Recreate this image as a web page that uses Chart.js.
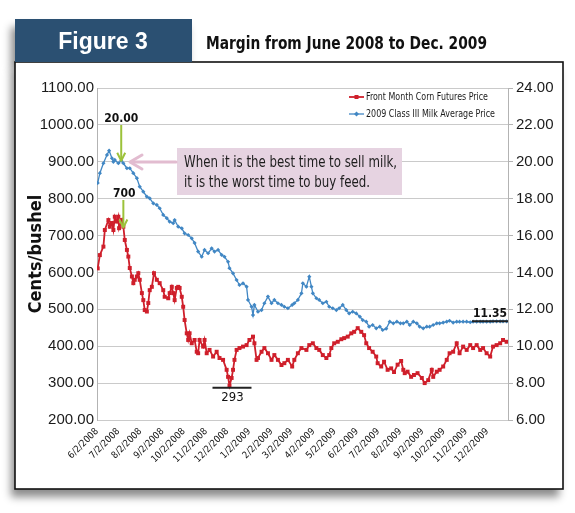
<!DOCTYPE html>
<html><head><meta charset="utf-8">
<script src="https://cdn.jsdelivr.net/npm/chart.js@4.4.1/dist/chart.umd.min.js"></script>
<style>html,body{margin:0;padding:0;background:#fff;}canvas{display:block;}</style>
</head><body>
<canvas id="c" width="575" height="513"></canvas>
<script>
// ---------- DATA ----------
const tickLabels = ["6/2/2008","7/2/2008","8/2/2008","9/2/2008","10/2/2008","11/2/2008","12/2/2008","1/2/2009","2/2/2009","3/2/2009","4/2/2009","5/2/2009","6/2/2009","7/2/2009","8/2/2009","9/2/2009","10/2/2009","11/2/2009","12/2/2009"];
const axisStart = "2008-06-02";
const axisEnd = "2009-12-31";

const cornDates = ["2008-06-03","2008-06-06","2008-06-11","2008-06-13","2008-06-18","2008-06-20","2008-06-23","2008-06-25","2008-06-27","2008-06-30","2008-07-02","2008-07-03","2008-07-07","2008-07-09","2008-07-11","2008-07-14","2008-07-16","2008-07-18","2008-07-21","2008-07-23","2008-07-25","2008-07-28","2008-07-30","2008-08-01","2008-08-04","2008-08-06","2008-08-08","2008-08-11","2008-08-13","2008-08-15","2008-08-18","2008-08-21","2008-08-25","2008-08-29","2008-09-03","2008-09-05","2008-09-10","2008-09-12","2008-09-15","2008-09-17","2008-09-19","2008-09-22","2008-09-24","2008-09-26","2008-09-29","2008-10-01","2008-10-03","2008-10-06","2008-10-08","2008-10-10","2008-10-13","2008-10-17","2008-10-20","2008-10-22","2008-10-24","2008-10-29","2008-10-31","2008-11-03","2008-11-07","2008-11-12","2008-11-17","2008-11-21","2008-11-26","2008-12-01","2008-12-03","2008-12-05","2008-12-08","2008-12-10","2008-12-12","2008-12-15","2008-12-19","2008-12-24","2008-12-29","2009-01-02","2009-01-07","2009-01-09","2009-01-12","2009-01-14","2009-01-19","2009-01-23","2009-01-28","2009-02-02","2009-02-06","2009-02-11","2009-02-16","2009-02-20","2009-02-25","2009-03-03","2009-03-06","2009-03-11","2009-03-16","2009-03-23","2009-03-27","2009-04-01","2009-04-06","2009-04-10","2009-04-15","2009-04-20","2009-04-24","2009-04-27","2009-05-01","2009-05-06","2009-05-11","2009-05-15","2009-05-20","2009-05-25","2009-05-29","2009-06-03","2009-06-08","2009-06-12","2009-06-15","2009-06-19","2009-06-24","2009-06-29","2009-07-01","2009-07-06","2009-07-10","2009-07-15","2009-07-20","2009-07-24","2009-07-29","2009-08-03","2009-08-06","2009-08-08","2009-08-12","2009-08-17","2009-08-21","2009-08-26","2009-09-01","2009-09-05","2009-09-10","2009-09-15","2009-09-17","2009-09-22","2009-09-26","2009-10-01","2009-10-06","2009-10-10","2009-10-15","2009-10-20","2009-10-24","2009-10-29","2009-11-03","2009-11-08","2009-11-12","2009-11-17","2009-11-22","2009-11-26","2009-12-01","2009-12-06","2009-12-10","2009-12-15","2009-12-20","2009-12-24","2009-12-29"];
const cornValues = [611,647,670,715,742,724,734,715,751,738,751,720,742,724,688,661,643,612,589,571,580,589,598,580,544,525,498,494,517,552,561,598,580,571,552,534,530,544,561,544,525,558,561,558,534,507,471,435,417,435,408,417,385,381,417,399,417,381,390,372,385,368,363,336,317,293,314,336,363,390,395,399,403,417,426,408,363,368,385,395,381,363,376,363,349,354,363,345,363,381,395,390,403,408,395,390,376,368,376,395,408,412,419,422,426,435,439,449,439,430,408,395,385,372,354,345,358,336,340,330,350,360,336,327,331,317,322,327,314,300,308,336,317,331,336,345,363,381,385,408,381,399,390,403,395,403,390,395,381,372,399,403,408,417,412];

const milkDates = ["2008-06-03","2008-06-06","2008-06-11","2008-06-16","2008-06-19","2008-06-23","2008-06-25","2008-06-27","2008-07-02","2008-07-06","2008-07-09","2008-07-14","2008-07-18","2008-07-23","2008-07-28","2008-08-01","2008-08-06","2008-08-11","2008-08-15","2008-08-20","2008-08-25","2008-08-29","2008-09-03","2008-09-08","2008-09-12","2008-09-17","2008-09-19","2008-09-24","2008-09-29","2008-10-03","2008-10-08","2008-10-13","2008-10-17","2008-10-22","2008-10-27","2008-10-31","2008-11-05","2008-11-10","2008-11-14","2008-11-19","2008-11-24","2008-11-28","2008-12-03","2008-12-05","2008-12-10","2008-12-15","2008-12-19","2008-12-24","2008-12-29","2008-12-31","2009-01-05","2009-01-07","2009-01-09","2009-01-14","2009-01-19","2009-01-23","2009-01-28","2009-02-02","2009-02-06","2009-02-11","2009-02-16","2009-02-20","2009-02-25","2009-03-03","2009-03-06","2009-03-11","2009-03-16","2009-03-18","2009-03-23","2009-03-27","2009-03-30","2009-04-01","2009-04-06","2009-04-10","2009-04-15","2009-04-20","2009-04-24","2009-04-29","2009-05-04","2009-05-08","2009-05-13","2009-05-18","2009-05-22","2009-05-27","2009-06-01","2009-06-06","2009-06-10","2009-06-15","2009-06-19","2009-06-24","2009-06-29","2009-07-04","2009-07-08","2009-07-13","2009-07-18","2009-07-23","2009-07-28","2009-08-02","2009-08-06","2009-08-11","2009-08-15","2009-08-20","2009-08-25","2009-08-29","2009-09-03","2009-09-08","2009-09-12","2009-09-17","2009-09-22","2009-09-26","2009-10-01","2009-10-06","2009-10-10","2009-10-15","2009-10-20","2009-10-24","2009-10-29","2009-11-03","2009-11-08","2009-11-12","2009-11-17","2009-11-22","2009-11-26","2009-12-01","2009-12-06","2009-12-10","2009-12-15","2009-12-20","2009-12-24","2009-12-29"];
const milkValues = [18.85,19.38,19.92,20.37,20.60,20.19,20.00,20.10,19.92,20.06,19.92,19.65,19.65,19.38,19.11,18.65,18.38,18.11,18.02,17.75,17.66,17.48,17.12,16.94,16.75,16.67,16.84,16.48,16.39,16.12,16.03,15.85,15.60,15.13,14.85,15.22,15.04,15.31,15.13,15.22,14.95,14.85,14.58,14.23,13.95,13.59,13.32,13.41,13.23,12.51,12.14,11.69,12.24,11.87,11.96,12.33,12.69,12.33,12.51,12.33,12.24,12.14,12.06,12.24,12.33,12.51,12.87,13.41,13.23,13.77,13.23,12.87,12.60,12.51,12.33,12.41,12.14,12.06,11.96,12.06,12.24,11.96,11.78,11.87,11.78,11.60,11.42,11.33,11.06,11.15,10.97,11.06,10.88,10.95,11.33,11.24,11.33,11.24,11.24,11.33,11.15,11.33,11.24,11.06,10.97,11.06,11.06,11.15,11.24,11.24,11.28,11.33,11.38,11.28,11.33,11.33,11.33,11.33,11.30,11.33,11.33,11.33,11.33,11.33,11.33,11.35,11.35,11.35,11.35,11.35];

const seriesNames = ["Front Month Corn Futures Price","2009 Class III Milk Average Price"];
const leftTicks = {min:200, max:1100, step:100};
const rightTicks = {min:6, max:24, step:2};

// ---------- HELPERS ----------
const DAY = 86400000;
const t0 = Date.parse(axisStart + "T00:00:00Z");
const dayOfISO = s => (Date.parse(s + "T00:00:00Z") - t0) / DAY;
const dayOfMDY = s => { const [m,d,y] = s.split("/").map(Number); return (Date.UTC(y,m-1,d) - t0) / DAY; };
const tickDays = tickLabels.map(dayOfMDY);

const RED = "#cf1f2b";
const BLUE = "#4187c4";
const NARROW = "'Liberation Sans Narrow','Arial Narrow','DejaVu Sans Condensed',sans-serif";
const SANS = "'Liberation Sans',Arial,sans-serif";

const decor = {
  id: "decor",
  beforeDraw(chart) {
    const ctx = chart.ctx;
    ctx.save();
    ctx.fillStyle = "#fff";
    ctx.fillRect(0,0,575,513);
    ctx.shadowColor = "rgba(0,0,0,0.45)";
    ctx.shadowBlur = 8;
    ctx.shadowOffsetX = -4;
    ctx.shadowOffsetY = 8;
    ctx.fillStyle = "#fff";
    ctx.fillRect(15, 62, 548, 427);
    ctx.fillStyle = "#2b5072";
    ctx.fillRect(15, 19, 177, 43);
    ctx.restore();
    ctx.save();
    ctx.fillStyle = "#fff";
    ctx.fillRect(15, 62, 548, 427);
    ctx.strokeStyle = "#111";
    ctx.lineWidth = 1.6;
    ctx.strokeRect(15, 62, 548, 427);
    ctx.fillStyle = "#2b5072";
    ctx.fillRect(15, 19, 177, 43);
    ctx.fillStyle = "#fff";
    ctx.font = "bold 23px " + SANS;
    ctx.textAlign = "center";
    ctx.textBaseline = "alphabetic";
    ctx.fillText("Figure 3", 103, 49);
    ctx.fillStyle = "#111";
    ctx.textAlign = "left";
    ctx.font = "bold 18px " + NARROW;
    ctx.fillText("Margin from June 2008 to Dec. 2009", 206, 49, 281);
    ctx.restore();
  },
  afterDraw(chart) {
    const ctx = chart.ctx;
    const xs = chart.scales.x, yl = chart.scales.y, yr = chart.scales.y1;
    ctx.save();
    // legend
    const lgColors = [RED, BLUE];
    const lgWidths = [122, 129];
    seriesNames.forEach((name,i) => {
      const y = 97 + i*17;
      ctx.strokeStyle = lgColors[i]; ctx.lineWidth = i===0?1.8:1.3;
      ctx.beginPath(); ctx.moveTo(349,y); ctx.lineTo(364,y); ctx.stroke();
      ctx.fillStyle = lgColors[i];
      ctx.beginPath();
      if (i===0) ctx.rect(354.5, y-2, 4, 4); else { ctx.moveTo(356.5,y-2.5); ctx.lineTo(359,y); ctx.lineTo(356.5,y+2.5); ctx.lineTo(354,y); ctx.closePath(); }
      ctx.fill();
      ctx.fillStyle = "#1a1a1a";
      ctx.font = "10px " + NARROW;
      ctx.textAlign = "left"; ctx.textBaseline = "middle";
      ctx.fillText(name, 366, y+0.5, lgWidths[i]);
    });
    // pink callout
    ctx.fillStyle = "#e6d3e1";
    ctx.fillRect(177, 148, 225, 47);
    ctx.fillStyle = "#1d1d1d";
    ctx.font = "16px " + NARROW;
    ctx.textAlign = "left"; ctx.textBaseline = "alphabetic";
    ctx.fillText("When it is the best time to sell milk,", 184, 167, 213);
    ctx.fillText("it is the worst time to buy feed.", 184, 187, 186);
    // pink arrow
    ctx.strokeStyle = "#e2bcd0"; ctx.lineWidth = 3; ctx.lineCap = "round"; ctx.lineJoin = "round";
    ctx.beginPath(); ctx.moveTo(176,162); ctx.lineTo(131,162); ctx.stroke();
    ctx.beginPath(); ctx.moveTo(142,155); ctx.lineTo(130,162); ctx.lineTo(142,169); ctx.stroke();
    // green arrows
    const green = "#9cc23a";
    function garrow(x, y0, y1) {
      ctx.strokeStyle = green; ctx.lineWidth = 2; ctx.lineCap = "butt";
      ctx.beginPath(); ctx.moveTo(x,y0); ctx.lineTo(x,y1); ctx.stroke();
      ctx.beginPath(); ctx.moveTo(x-4,y1-8); ctx.lineTo(x,y1); ctx.lineTo(x+4,y1-8); ctx.stroke();
    }
    const xMilkPk = xs.getPixelForValue(dayOfISO("2008-07-06"));
    const xCornPk = xs.getPixelForValue(dayOfISO("2008-07-09"));
    garrow(xMilkPk, 125, yr.getPixelForValue(20.0) - 1);
    garrow(xCornPk, 200, yl.getPixelForValue(722));
    ctx.fillStyle = "#111";
    ctx.font = "bold 12px " + NARROW;
    ctx.textAlign = "center";
    ctx.fillText("20.00", xMilkPk, 122);
    ctx.fillText("700", xCornPk + 1, 197);
    // 293 low marker
    const xLow = xs.getPixelForValue(dayOfISO("2008-12-05"));
    const yLow = yl.getPixelForValue(293) + 2;
    ctx.strokeStyle = "#222"; ctx.lineWidth = 2;
    ctx.beginPath(); ctx.moveTo(xLow-17, yLow); ctx.lineTo(xLow+22, yLow); ctx.stroke();
    ctx.font = "13px " + NARROW;
    ctx.fillStyle = "#111";
    ctx.fillText("293", xLow + 3, yLow + 13);
    // 11.35 end marker
    const yEnd = yr.getPixelForValue(11.35);
    const xR = chart.chartArea.right;
    ctx.beginPath(); ctx.moveTo(xR-36, yEnd); ctx.lineTo(xR, yEnd); ctx.stroke();
    ctx.font = "bold 12px " + NARROW;
    ctx.fillText("11.35", xR-18, yEnd-4);
    ctx.restore();
  }
};

new Chart(document.getElementById("c").getContext("2d"), {
  type: "line",
  data: {
    datasets: [
      { label: seriesNames[0], yAxisID: "y",
        data: cornDates.map((d,i) => ({x: dayOfISO(d), y: cornValues[i]})),
        borderColor: RED, backgroundColor: RED, borderWidth: 1.8,
        pointStyle: "rect", pointRadius: 2.8, pointBorderWidth: 0, tension: 0 },
      { label: seriesNames[1], yAxisID: "y1",
        data: milkDates.map((d,i) => ({x: dayOfISO(d), y: milkValues[i]})),
        borderColor: BLUE, backgroundColor: BLUE, borderWidth: 1.3,
        pointStyle: "rectRot", pointRadius: 2.1, pointBorderWidth: 0, tension: 0 }
    ]
  },
  options: {
    responsive: false, animation: false, devicePixelRatio: 1,
    layout: { padding: { top: 88, left: 0, right: 0, bottom: 0 } },
    plugins: { legend: { display: false }, tooltip: { enabled: false } },
    scales: {
      x: {
        type: "linear", min: 0, max: dayOfISO(axisEnd),
        grid: { display: false, drawTicks: false }, border: { display: false },
        afterBuildTicks: s => { s.ticks = tickDays.map(v => ({ value: v })); },
        afterFit: s => { s.height = 93; },
        ticks: { autoSkip: false, minRotation: 45, maxRotation: 45, padding: 6,
          color: "#111", font: { family: NARROW, size: 9.5 },
          callback: v => { const i = tickDays.indexOf(v); return i >= 0 ? tickLabels[i] : ""; } }
      },
      y: {
        position: "left", min: leftTicks.min, max: leftTicks.max,
        afterFit: s => { s.width = 97; },
        grid: { color: "#cacaca", drawTicks: false }, border: { color: "#b3b3b3" },
        ticks: { stepSize: leftTicks.step, padding: 3, color: "#1a1a1a",
          font: { family: SANS, size: 15 }, callback: v => Number(v).toFixed(2) },
        title: { display: true, text: "Cents/bushel", color: "#111",
          font: { family: NARROW, size: 18, weight: "bold" }, padding: { top: 26, bottom: 0 } }
      },
      y1: {
        position: "right", min: rightTicks.min, max: rightTicks.max,
        afterFit: s => { s.width = 67; },
        grid: { drawOnChartArea: false, tickLength: 5, color: "#b3b3b3" }, border: { color: "#b3b3b3" },
        ticks: { stepSize: rightTicks.step, padding: 3, color: "#1a1a1a",
          font: { family: SANS, size: 15 }, callback: v => Number(v).toFixed(2) }
      }
    }
  },
  plugins: [decor]
});
</script>
</body></html>
